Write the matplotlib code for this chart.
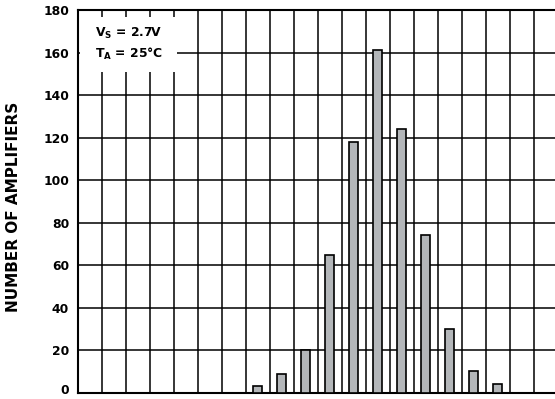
import matplotlib
matplotlib.use("Agg")
import matplotlib.pyplot as plt
from matplotlib.patches import Rectangle
from matplotlib.transforms import ScaledTranslation

plt.rcParams["font.family"] = ["DejaVu Sans"]
plt.rcParams["mathtext.fontset"] = "custom"
plt.rcParams["mathtext.rm"] = "DejaVu Sans:bold"
plt.rcParams["mathtext.it"] = "DejaVu Sans:bold"
plt.rcParams["mathtext.bf"] = "DejaVu Sans:bold"

# histogram bins (column index) and counts
bins = [7, 8, 9, 10, 11, 12, 13, 14, 15, 16, 17]
counts = [3, 9, 20, 65, 118, 161, 124, 74, 30, 10, 4]
yticks = [0, 20, 40, 60, 80, 100, 120, 140, 160, 180]
n_cols = 20

W, H = 555, 399
fig = plt.figure(figsize=(W / 100, H / 100), dpi=100)
left, right, top, bottom = 77.5, 557.5, 10, 392.7
ax = fig.add_axes([left / W, 1 - bottom / H, (right - left) / W, (bottom - top) / H])

ax.bar([b + 0.5 for b in bins], counts, width=0.35, color="#b3b6b9",
       edgecolor="black", linewidth=1.2, zorder=3)

ax.set_xlim(0, n_cols)
ax.set_ylim(0, 180)
ax.set_xticks(range(n_cols + 1))
ax.set_xticklabels([])
ax.set_yticks(yticks)
ax.set_yticklabels([str(v) for v in yticks], fontsize=8.9, fontweight="bold")
ax.tick_params(length=0, pad=6.1)
ax.grid(True, color="black", linewidth=1.1)
ax.set_axisbelow(True)
for s in ax.spines.values():
    s.set_linewidth(1.5)

# lift the "0" label a little so it sits above the bottom edge
zero_lbl = ax.get_yticklabels()[0]
zero_lbl.set_transform(zero_lbl.get_transform() +
                       ScaledTranslation(0, 3 / 72, fig.dpi_scale_trans))

# white box behind the conditions text
ax.add_patch(Rectangle((0.1, 151), 4.05, 25.8, facecolor="white",
                       edgecolor="none", zorder=2.5))
ax.text(0.73, 167.3, r"$V_S$ = 2.7V", fontsize=8.9, fontweight="bold",
        ha="left", va="baseline", zorder=4)
ax.text(0.73, 157.6, r"$T_A$ = 25°C", fontsize=8.9, fontweight="bold",
        ha="left", va="baseline", zorder=4)

fig.text(14 / W, 1 - 207 / H, "NUMBER OF AMPLIFIERS", rotation=90,
         fontsize=11, fontweight="bold", ha="center", va="center")

fig.savefig("out.png", dpi=100)
